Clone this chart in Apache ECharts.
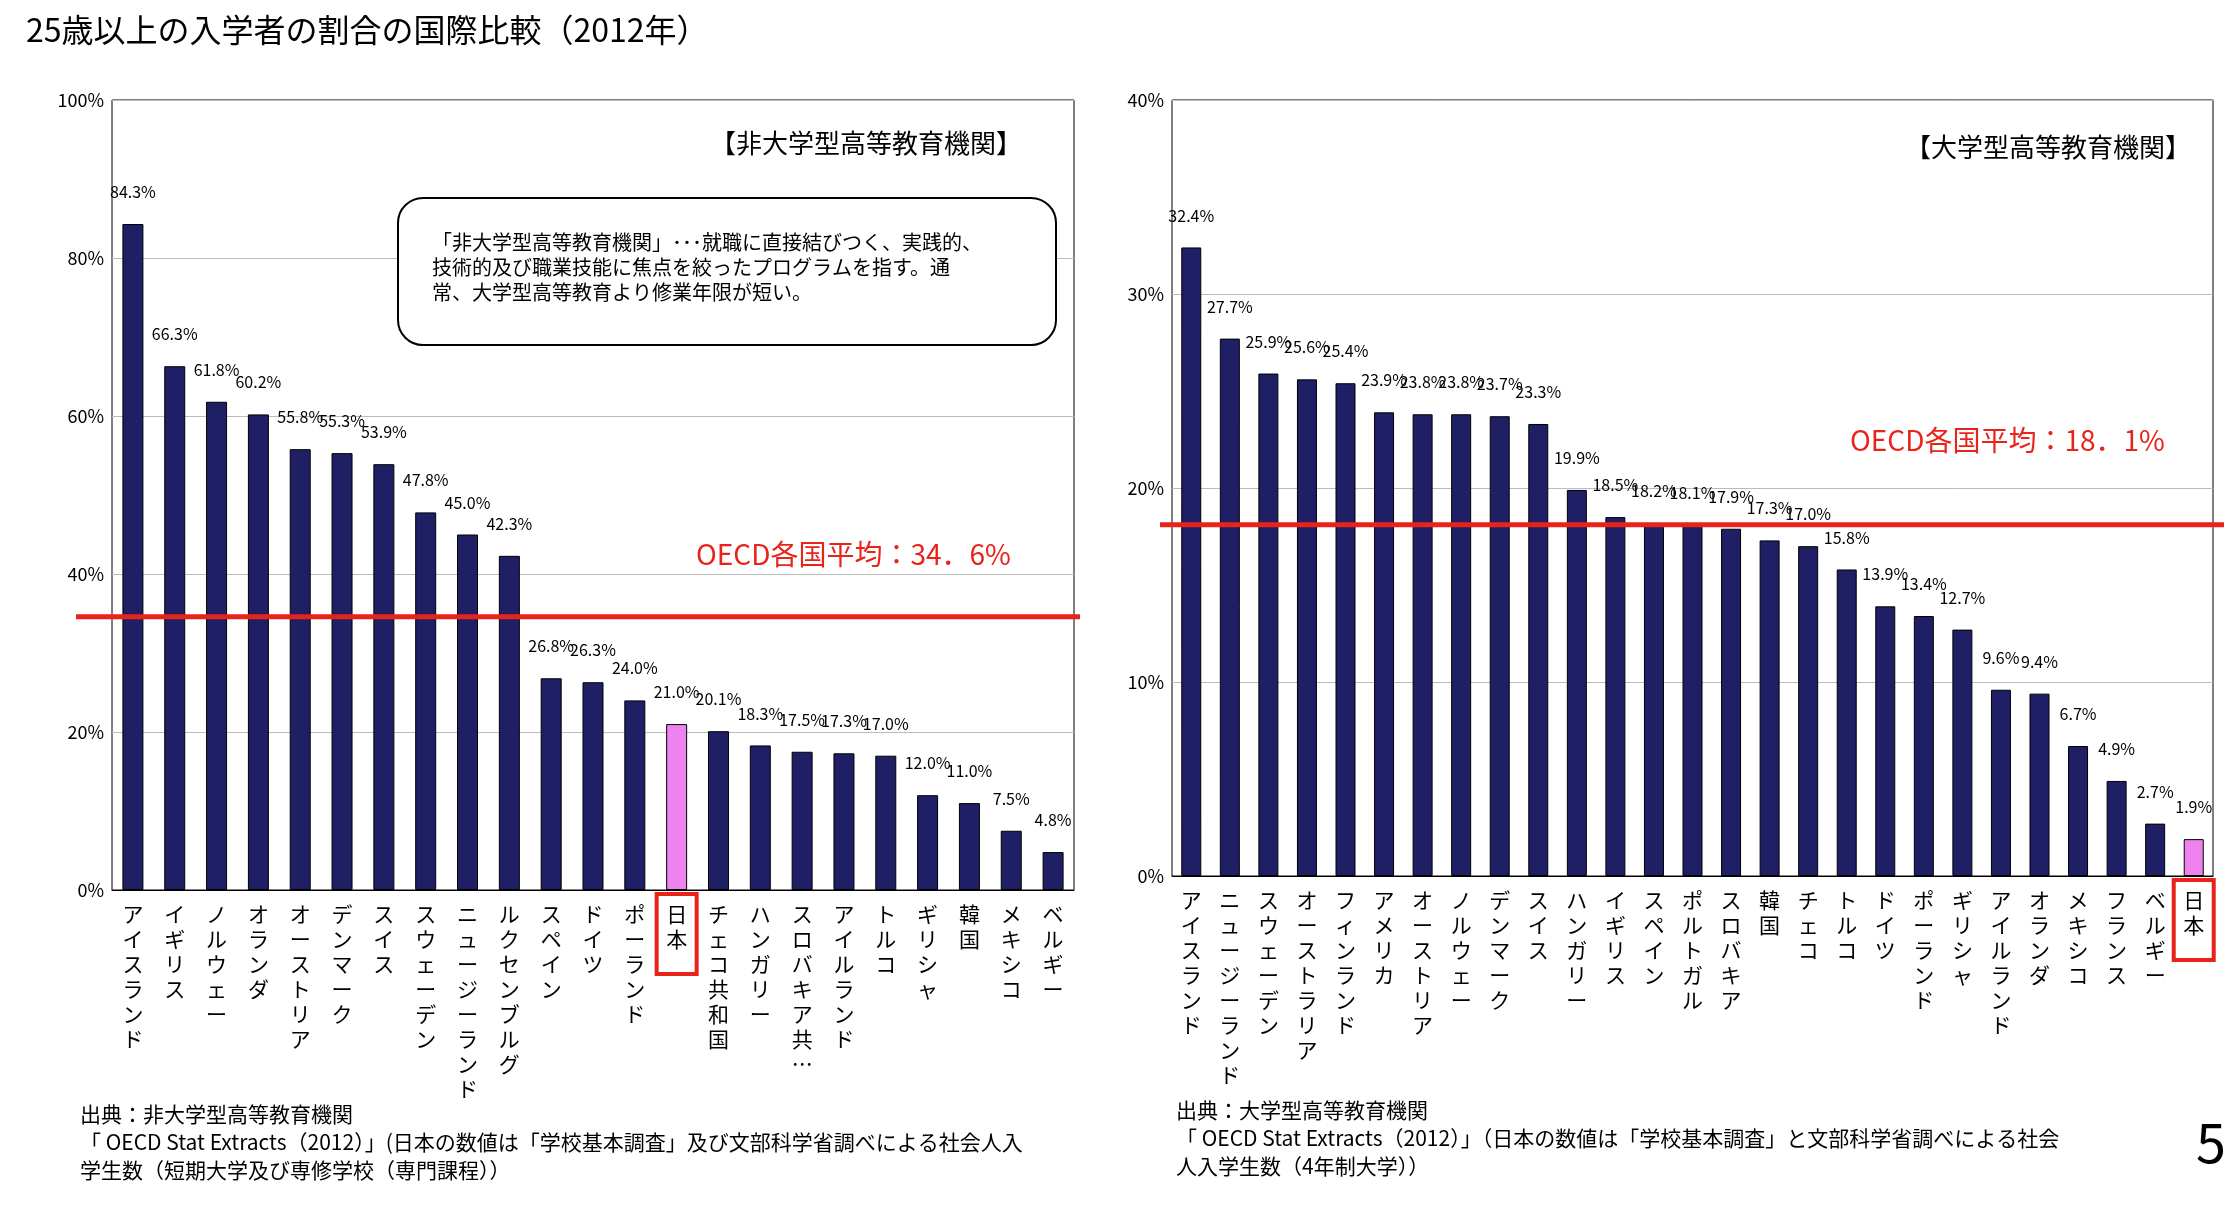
<!DOCTYPE html>
<html><head><meta charset="utf-8">
<script src="https://cdn.jsdelivr.net/npm/echarts@6/dist/echarts.min.js"></script>
<style>html,body{margin:0;background:#fff}#c{width:2240px;height:1216px}</style>
</head><body><div id="c"></div>
<script>
const leftCats=['アイスランド','イギリス','ノルウェー','オランダ','オーストリア','デンマーク','スイス','スウェーデン','ニュージーランド','ルクセンブルグ','スペイン','ドイツ','ポーランド','日本','チェコ共和国','ハンガリー','スロバキア共…','アイルランド','トルコ','ギリシャ','韓国','メキシコ','ベルギー'];
const leftVals=[84.3,66.3,61.8,60.2,55.8,55.3,53.9,47.8,45.0,42.3,26.8,26.3,24.0,21.0,20.1,18.3,17.5,17.3,17.0,12.0,11.0,7.5,4.8];
const rightCats=['アイスランド','ニュージーランド','スウェーデン','オーストラリア','フィンランド','アメリカ','オーストリア','ノルウェー','デンマーク','スイス','ハンガリー','イギリス','スペイン','ポルトガル','スロバキア','韓国','チェコ','トルコ','ドイツ','ポーランド','ギリシャ','アイルランド','オランダ','メキシコ','フランス','ベルギー','日本'];
const rightVals=[32.4,27.7,25.9,25.6,25.4,23.9,23.8,23.8,23.7,23.3,19.9,18.5,18.2,18.1,17.9,17.3,17.0,15.8,13.9,13.4,12.7,9.6,9.4,6.7,4.9,2.7,1.9];
const leftAvg=34.6, rightAvg=18.1;
const F='"Noto Sans CJK JP"';
const navy='#1f1f66', pink='#ee82ee', red='#e8231a';
function xAxis(cats,i){return {type:'category',data:cats,gridIndex:i,axisTick:{show:false},axisLine:{lineStyle:{color:'#000'}},
 axisLabel:{interval:0,fontFamily:F,fontSize:21,color:'#000',lineHeight:25,verticalAlign:'top',margin:12,
 formatter:v=>v.split('').join('\n')}};}
function yAxis(max,iv,i){return {type:'value',min:0,max:max,interval:iv,gridIndex:i,
 axisLabel:{formatter:'{value}%',fontFamily:F,fontSize:18,color:'#000'},axisLine:{show:false},axisTick:{show:false},
 splitLine:{lineStyle:{color:'#bbb'}}};}
function series(vals,cats,i,bw){return {type:'bar',xAxisIndex:i,yAxisIndex:i,barWidth:bw,
 data:vals.map((v,k)=>({value:v,itemStyle:{color:cats[k]==='日本'?pink:navy,borderColor:'#000',borderWidth:1}})),
 label:{show:true,position:'top',distance:24,formatter:p=>p.value.toFixed(1)+'%',fontFamily:F,fontSize:16,color:'#000'}};}
const chart=echarts.init(document.getElementById('c'));
const graphics=[
  {type:'text',left:26,top:14,style:{text:'25歳以上の入学者の割合の国際比較（2012年）',font:'32px '+F,fill:'#000'}},
  {type:'text',left:710,top:130,style:{text:'【非大学型高等教育機関】',font:'26px '+F,fill:'#000'}},
  {type:'text',left:1905,top:134,style:{text:'【大学型高等教育機関】',font:'26px '+F,fill:'#000'}},
  {type:'text',left:696,top:540,style:{text:'OECD各国平均：34．6%',font:'28px '+F,fill:red}},
  {type:'text',left:1850,top:426,style:{text:'OECD各国平均：18．1%',font:'28px '+F,fill:red}},
  {type:'rect',shape:{x:398,y:198,width:658,height:147,r:25},style:{fill:'#fff',stroke:'#000',lineWidth:2},z:10},
  {type:'text',left:432,top:230,z:11,style:{text:'「非大学型高等教育機関」･･･就職に直接結びつく、実践的、\n技術的及び職業技能に焦点を絞ったプログラムを指す。通\n常、大学型高等教育より修業年限が短い。',font:'20px '+F,lineHeight:25,fill:'#000'}},
  {type:'text',left:80,top:1100,style:{text:'出典：非大学型高等教育機関\n「 OECD Stat Extracts（2012）」(日本の数値は「学校基本調査」及び文部科学省調べによる社会人入\n学生数（短期大学及び専修学校（専門課程））',font:'21px '+F,lineHeight:28,fill:'#000'}},
  {type:'text',left:1176,top:1096,style:{text:'出典：大学型高等教育機関\n「 OECD Stat Extracts（2012）」（日本の数値は「学校基本調査」と文部科学省調べによる社会\n人入学生数（4年制大学））',font:'21px '+F,lineHeight:28,fill:'#000'}},
  {type:'text',left:2196,top:1115,style:{text:'5',font:'54px '+F,fill:'#000'}}
];
chart.setOption({
 animation:false,
 grid:[{left:112,top:100,width:962,height:790,show:true,borderColor:'#000',borderWidth:1},
       {left:1172,top:100,width:1041,height:776,show:true,borderColor:'#000',borderWidth:1}],
 xAxis:[xAxis(leftCats,0),xAxis(rightCats,1)],
 yAxis:[yAxis(100,20,0),yAxis(40,10,1)],
 series:[series(leftVals,leftCats,0,21),series(rightVals,rightCats,1,20)],
 graphic:graphics
});
// average lines and Japan label boxes via the library's scales
function extras(i,cats,avg,x1,x2){
  const y=chart.convertToPixel({gridIndex:i},[0,avg])[1];
  graphics.push({type:'line',z:5,shape:{x1:x1,y1:y,x2:x2,y2:y},style:{stroke:red,lineWidth:5}});
  const p=chart.convertToPixel({gridIndex:i},['日本',0]);
  graphics.push({type:'rect',z:5,shape:{x:p[0]-20,y:p[1]+4,width:40,height:80},style:{fill:'none',stroke:red,lineWidth:4}});
}
extras(0,leftCats,leftAvg,76,1080);
extras(1,rightCats,rightAvg,1160,2224);
chart.setOption({graphic:graphics});
</script></body></html>
